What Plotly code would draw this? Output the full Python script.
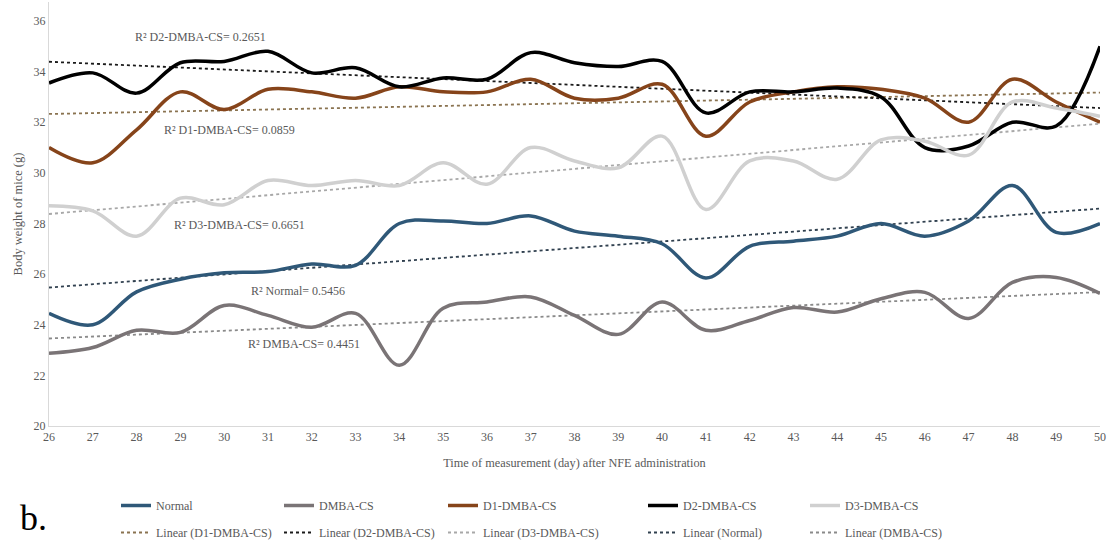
import numpy as np
import plotly.graph_objects as go

days = list(range(26, 51))
normal = [24.45, 24.0, 25.3, 25.8, 26.05, 26.1, 26.4, 26.35, 28.0, 28.1, 28.0, 28.3, 27.7, 27.5, 27.2, 25.85,
          27.1, 27.3, 27.5, 28.0, 27.5, 28.1, 29.5, 27.65, 28.0]
dmba = [22.87, 23.1, 23.78, 23.7, 24.76, 24.37, 23.9, 24.45, 22.4, 24.65, 24.9, 25.1, 24.37, 23.62, 24.9, 23.78,
        24.17, 24.68, 24.5, 25.03, 25.28, 24.25, 25.67, 25.87, 25.24]
d1 = [31.0, 30.4, 31.7, 33.2, 32.5, 33.3, 33.2, 32.95, 33.4, 33.2, 33.2, 33.7, 32.95, 32.95, 33.5, 31.45,
      32.8, 33.2, 33.4, 33.3, 32.95, 32.0, 33.7, 32.8, 32.0]
d2 = [33.55, 33.95, 33.15, 34.35, 34.4, 34.8, 33.95, 34.15, 33.4, 33.75, 33.7, 34.75, 34.35, 34.2, 34.4, 32.37,
      33.2, 33.2, 33.35, 33.0, 31.0, 31.06, 32.0, 31.85, 35.0]
d3 = [28.7, 28.5, 27.5, 29.0, 28.74, 29.7, 29.5, 29.7, 29.5, 30.4, 29.55, 31.0, 30.47, 30.2, 31.45, 28.55,
      30.47, 30.47, 29.75, 31.3, 31.25, 30.7, 32.8, 32.56, 32.24]

names = ["Normal", "DMBA-CS", "D1-DMBA-CS", "D2-DMBA-CS", "D3-DMBA-CS"]
r2_labels = {"D2-DMBA-CS": "R² D2-DMBA-CS= 0.2651", "D1-DMBA-CS": "R² D1-DMBA-CS= 0.0859",
             "D3-DMBA-CS": "R² D3-DMBA-CS= 0.6651", "Normal": "R² Normal= 0.5456",
             "DMBA-CS": "R² DMBA-CS= 0.4451"}

series = {"Normal": normal, "DMBA-CS": dmba, "D1-DMBA-CS": d1, "D2-DMBA-CS": d2, "D3-DMBA-CS": d3}
colors = {"Normal": "#2F5878", "DMBA-CS": "#7A7476", "D1-DMBA-CS": "#86441A", "D2-DMBA-CS": "#000000",
          "D3-DMBA-CS": "#D0D0D0"}
trend_colors = {"D1-DMBA-CS": "#8A7350", "D2-DMBA-CS": "#1A1A1A", "D3-DMBA-CS": "#A8A8A8",
                "Normal": "#30404F", "DMBA-CS": "#8A8A8A"}
trend_order = ["D1-DMBA-CS", "D2-DMBA-CS", "D3-DMBA-CS", "Normal", "DMBA-CS"]
legend_ids = ["legend", "legend2", "legend3", "legend4", "legend5"]
legend_x = [116, 279, 443, 643, 805]

FONT = "Liberation Serif, Times New Roman, serif"
TXT = "#595959"

W, H = 1110, 544
ml, mr, mt, mb = 49, 10, 2, 118
pw, ph = W - ml - mr, H - mt - mb

fig = go.Figure()
x = np.array(days, dtype=float)
for i, t in enumerate(trend_order):
    yv = np.array(series[t])
    m, b = np.polyfit(x, yv, 1)
    fig.add_trace(go.Scatter(x=days, y=(m * x + b).tolist(), mode="lines", name=f"Linear ({t})",
                             line=dict(color=trend_colors[t], width=1.8, dash="dot"),
                             legend=legend_ids[i], legendrank=2, legendgroup=f"t{i}"))
for i, n in enumerate(names):
    fig.add_trace(go.Scatter(x=days, y=series[n], mode="lines", name=n,
                             line=dict(color=colors[n], width=3.5, shape="spline", smoothing=1.0),
                             legend=legend_ids[i], legendrank=1, legendgroup=f"s{i}"))

ann_pos = {"D2-DMBA-CS": (29.45, 35.35), "D1-DMBA-CS": (30.13, 31.7), "D3-DMBA-CS": (30.36, 27.95),
           "Normal": (31.68, 25.35), "DMBA-CS": (31.82, 23.23)}
annotations = []
for k, (ax_, ay_) in ann_pos.items():
    annotations.append(dict(x=ax_, y=ay_, xref="x", yref="y", text=r2_labels[k], showarrow=False,
                            font=dict(family=FONT, size=12, color=TXT)))
annotations.append(dict(x=(18 - ml) / pw, y=-(518 - (H - mb)) / ph, xref="paper", yref="paper",
                        text="b.", showarrow=False, xanchor="left", yanchor="middle",
                        font=dict(family=FONT, size=36, color="#000000")))

layout_legends = {}
for i, lid in enumerate(legend_ids):
    layout_legends[lid] = dict(
        x=(legend_x[i] - ml) / pw, y=-(491 - (H - mb)) / ph,
        xanchor="left", yanchor="top", orientation="v", bgcolor="rgba(0,0,0,0)",
        font=dict(family=FONT, size=12, color=TXT), tracegroupgap=8, itemwidth=30)

fig.update_layout(
    width=W, height=H, margin=dict(l=ml, r=mr, t=mt, b=mb, autoexpand=False),
    paper_bgcolor="white", plot_bgcolor="white",
    font=dict(family=FONT, size=12, color=TXT),
    xaxis=dict(range=[26, 50], tickmode="array", tickvals=days, ticktext=[str(d) for d in days],
               showgrid=False, zeroline=False, showline=True, linecolor="#D9D9D9", linewidth=1,
               ticks="", tickfont=dict(family=FONT, size=12, color=TXT), automargin=False,
               title=dict(text="Time of measurement (day) after NFE administration",
                          font=dict(family=FONT, size=12.3, color=TXT), standoff=14)),
    yaxis=dict(range=[20, 36.75], tickmode="array", tickvals=list(range(20, 37, 2)),
               showgrid=False, zeroline=False, showline=True, linecolor="#D9D9D9", linewidth=1,
               ticks="", tickfont=dict(family=FONT, size=12, color=TXT), automargin=False,
               title=dict(text="Body weight of mice (g)", font=dict(family=FONT, size=12.5, color=TXT),
                          standoff=8)),
    annotations=annotations,
    showlegend=True,
    **layout_legends,
)

fig.write_html("out.html")
